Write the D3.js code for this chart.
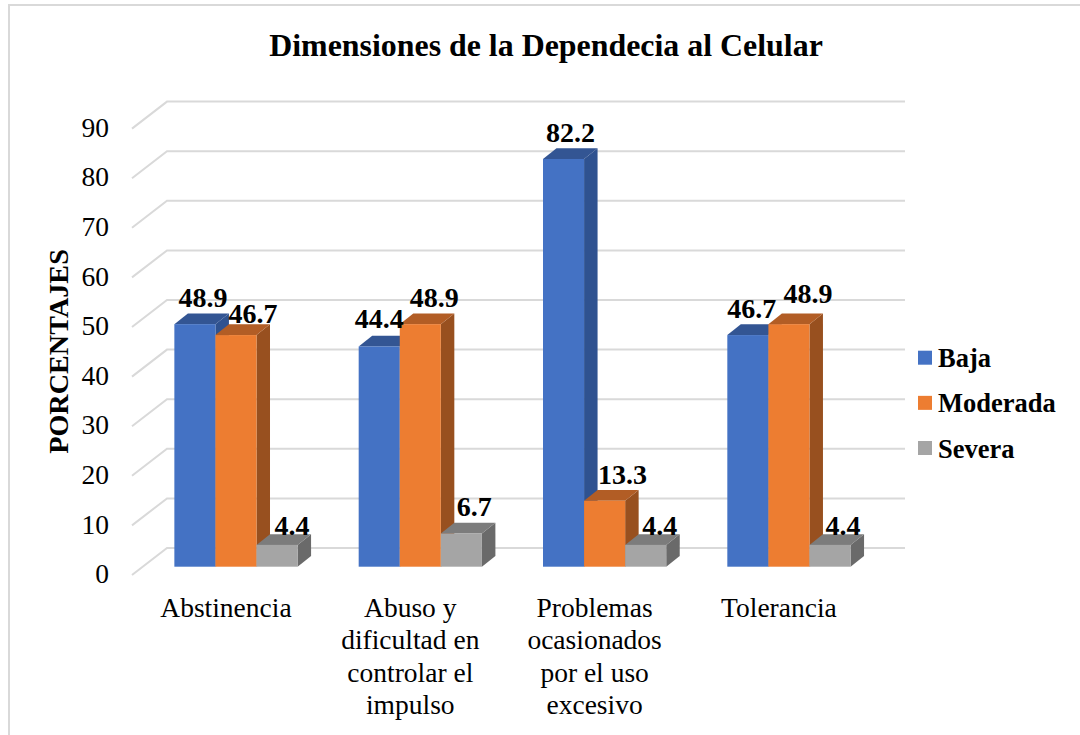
<!DOCTYPE html>
<html>
<head>
<meta charset="utf-8">
<script src="https://cdn.jsdelivr.net/npm/d3@7"></script>
<style>
  html, body { margin: 0; padding: 0; background: #fff; }
  svg { display: block; }
  text { font-family: "Liberation Serif", serif; fill: #000; }
  .bold { font-weight: bold; }
</style>
</head>
<body>
<div id="chart"></div>
<script>
const categories = ["Abstinencia", "Abuso y dificultad en controlar el impulso",
                    "Problemas ocasionados por el uso excesivo", "Tolerancia"];
const seriesNames = ["Baja", "Moderada", "Severa"];
const baja = [48.9, 44.4, 82.2, 46.7];
const moderada = [46.7, 48.9, 13.3, 48.9];
const severa = [4.4, 6.7, 4.4, 4.4];
const yTicks = [0, 10, 20, 30, 40, 50, 60, 70, 80, 90];

const width = 1080, height = 735;
const svg = d3.select("#chart").append("svg")
                .attr("width", width)
                .attr("height", height);

// frame of the chart area, runs off the right and bottom of the picture
svg.append("rect")
    .attr("x", 9).attr("y", 5)
    .attr("width", width + 20).attr("height", height + 20)
    .attr("fill", "#fff").attr("stroke", "#d9d9d9").attr("stroke-width", 2);

const colors = {
  Baja : {front : "#4472c4", side : "#2f5290", top : "#335593"},
  Moderada : {front : "#ed7d31", side : "#98501f", top : "#b25d25"},
  Severa : {front : "#a5a5a5", side : "#6a6a6a", top : "#7c7c7c"}
};

let yScale = d3.scaleLinear().domain([ 0, 90 ]).range([ 566.7, 120.3 ]);
let xScale = d3.scaleBand()
                 .domain(categories)
                 .range([ 143.8, 881.1 ])
                 .paddingInner(0.3315)
                 .paddingOuter(0.1658);
let seriesScale = d3.scaleBand().domain(seriesNames).range([ 0, xScale.bandwidth() ]);

// 3D offsets
const wall = {dx : 35, dy : -18.7, left : 132, right : 868};
const depth = {dx : 13.5, dy : -10.7};

// floor + wall gridlines
const grid = svg.append("g").attr("fill", "none").attr("stroke", "#d9d9d9").attr("stroke-width", 2);
yTicks.forEach(t => {
  let y0 = yScale(t) + 8.3;
  let y1 = yScale(t) - 18.7;
  grid.append("path").attr("d", `M${wall.left},${y0}L${wall.left + wall.dx},${y1}L${wall.right + wall.dx + 2},${y1}`);
});

// y tick labels
svg.append("g").selectAll("text").data(yTicks).join("text")
    .attr("x", 109)
    .attr("y", d => yScale(d) + 16.5)
    .attr("text-anchor", "end")
    .attr("font-size", 27.5)
    .text(d => d);

svg.append("text")
    .attr("class", "bold")
    .attr("transform", "translate(68,351.5) rotate(-90)")
    .attr("text-anchor", "middle")
    .attr("font-size", 28.2)
    .text("PORCENTAJES");

svg.append("text")
    .attr("class", "bold")
    .attr("x", 546).attr("y", 56)
    .attr("text-anchor", "middle")
    .attr("font-size", 31.9)
    .text("Dimensiones de la Dependecia al Celular");

// bars, left to right so each one covers the side of the previous
const allValues = [ baja, moderada, severa ];
categories.forEach((cat, i) => {
  seriesNames.forEach((name, s) => {
    let v = allValues[s][i];
    let x = xScale(cat) + seriesScale(name);
    let w = seriesScale.bandwidth();
    let y0 = yScale(0), y1 = yScale(v);
    let c = colors[name];
    let g = svg.append("g");
    g.append("path").attr("fill", c.side)
        .attr("d", `M${x + w},${y1}L${x + w + depth.dx},${y1 + depth.dy}L${x + w + depth.dx},${y0 + depth.dy}L${x + w},${y0}Z`);
    g.append("path").attr("fill", c.top)
        .attr("d", `M${x},${y1}L${x + depth.dx},${y1 + depth.dy}L${x + w + depth.dx},${y1 + depth.dy}L${x + w},${y1}Z`);
    g.append("rect").attr("fill", c.front)
        .attr("x", x).attr("y", y1).attr("width", w).attr("height", y0 - y1);
  });
});

// the data labels were placed by hand in the original, so nudge them per bar
const labelNudgeX = [ [ 8, 17, 15 ], [ 0, 14, 13 ], [ 7, 18, 14 ], [ 4, 19, 13 ] ];
const labelNudgeY = [ [ -17, -12, -10 ], [ -18.5, -17, -17.5 ], [ -17, -17, -10 ], [ -17.3, -21.3, -10 ] ];
categories.forEach((cat, i) => {
  seriesNames.forEach((name, s) => {
    let v = allValues[s][i];
    svg.append("text")
        .attr("class", "bold")
        .attr("x", xScale(cat) + seriesScale(name) + seriesScale.bandwidth() / 2 + labelNudgeX[i][s])
        .attr("y", yScale(v) + labelNudgeY[i][s])
        .attr("text-anchor", "middle")
        .attr("font-size", 28)
        .text(v.toFixed(1));
  });
});

// category labels, wrapped as in the picture
const categoryLines = [
  [ "Abstinencia" ],
  [ "Abuso y", "dificultad en", "controlar el", "impulso" ],
  [ "Problemas", "ocasionados", "por el uso", "excesivo" ],
  [ "Tolerancia" ]
];
categories.forEach((cat, i) => {
  let cx = xScale(cat) + xScale.bandwidth() / 2 - 10;
  categoryLines[i].forEach((line, j) => {
    svg.append("text")
        .attr("x", cx)
        .attr("y", 616.5 + j * 32.6)
        .attr("text-anchor", "middle")
        .attr("font-size", 27.5)
        .text(line);
  });
});

// legend
const legendY = d3.scalePoint().domain(seriesNames).range([ 357.7, 448 ]);
const legend = svg.append("g");
seriesNames.forEach(name => {
  legend.append("rect")
      .attr("x", 918).attr("y", legendY(name) - 7)
      .attr("width", 14).attr("height", 14)
      .attr("fill", colors[name].front);
  legend.append("text")
      .attr("class", "bold")
      .attr("x", 938).attr("y", legendY(name) + 9.5)
      .attr("font-size", 26.5)
      .text(name);
});
</script>
</body>
</html>
